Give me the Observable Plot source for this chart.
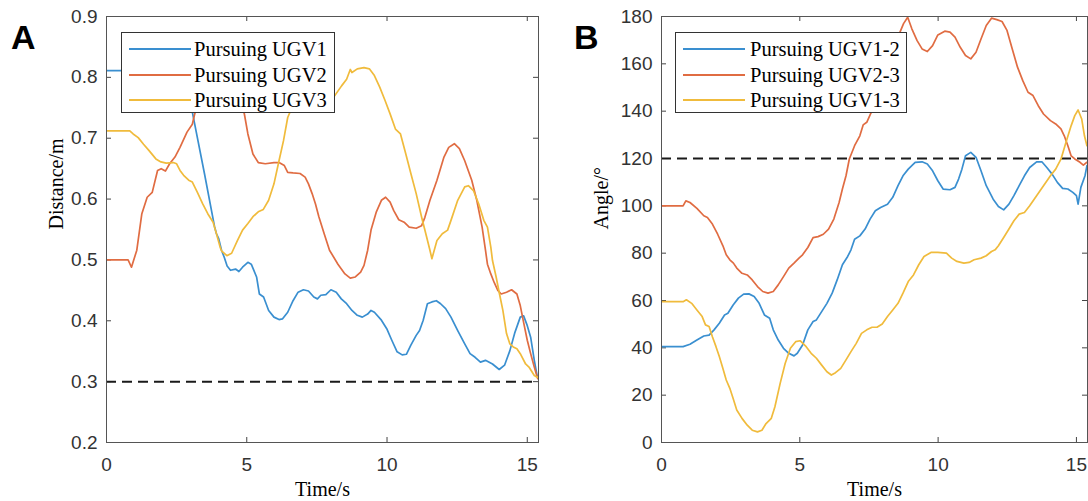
<!DOCTYPE html>
<html>
<head>
<meta charset="utf-8">
<script src="https://cdn.jsdelivr.net/npm/d3@7"></script>
<script src="https://cdn.jsdelivr.net/npm/@observablehq/plot@0.6"></script>
<style>
  html, body { margin: 0; padding: 0; background: #fff; }
  #wrap { display: flex; width: 1088px; height: 501px; }
  .panel { position: relative; width: 544px; height: 501px; }
  .letter { position: absolute; font-family: "Liberation Sans", Arial, sans-serif; font-weight: bold; font-size: 34px; line-height: 34px; color: #000; }
  .legend { position: absolute; background: #fff; border: 1px solid #333; box-sizing: border-box; }
  .row { position: absolute; left: 0; right: 0; height: 26px; }
  .sw { position: absolute; width: 62px; height: 0; border-top: 2px solid; top: 12px; }
  .lt { position: absolute; font-family: "Liberation Serif", "Times New Roman", serif; font-size: 20.5px; line-height: 26px; top: 0; color: #000; white-space: nowrap; }
</style>
</head>
<body>
<div id="wrap">
  <div class="panel" id="pa"></div>
  <div class="panel" id="pb"></div>
</div>
<script>
// ---------- shared ----------
const xTicks = [0, 5, 10, 15];
const colors = ["#3a8fd0", "#e06c42", "#f0bb3c"];

// ---------- panel A: distance ----------
const aYTicks = [0.2, 0.3, 0.4, 0.5, 0.6, 0.7, 0.8, 0.9];
const aNames = ["Pursuing UGV1", "Pursuing UGV2", "Pursuing UGV3"];
const aThreshold = 0.3;

const a1t = [0,0.8,1.5,2.2,2.75,3.06,3.5,3.85,3.92,4.0,4.1,4.2,4.3,4.42,4.6,4.72,4.85,5.04,5.16,5.35,5.45,5.6,5.78,5.97,6.15,6.27,6.46,6.65,6.83,7.02,7.2,7.39,7.52,7.64,7.82,8.0,8.19,8.37,8.56,8.75,8.94,9.12,9.31,9.43,9.55,9.8,9.99,10.17,10.36,10.54,10.69,10.85,11.04,11.16,11.29,11.44,11.6,11.76,11.91,12.09,12.28,12.52,12.77,12.96,13.14,13.33,13.51,13.76,14.0,14.19,14.38,14.56,14.75,14.87,15.0,15.12,15.25,15.35];
const a1v = [0.811,0.811,0.815,0.812,0.805,0.743,0.64,0.555,0.543,0.535,0.516,0.504,0.49,0.483,0.485,0.481,0.488,0.496,0.493,0.472,0.444,0.439,0.417,0.406,0.402,0.403,0.414,0.433,0.447,0.451,0.449,0.439,0.436,0.442,0.443,0.451,0.447,0.436,0.428,0.417,0.409,0.406,0.411,0.417,0.414,0.401,0.387,0.368,0.349,0.344,0.345,0.36,0.376,0.384,0.401,0.428,0.431,0.433,0.428,0.42,0.406,0.384,0.362,0.346,0.34,0.332,0.335,0.329,0.32,0.327,0.351,0.381,0.406,0.408,0.392,0.373,0.335,0.31];

const a2t = [0,0.77,0.89,1.08,1.26,1.45,1.63,1.82,1.95,2.1,2.25,2.44,2.62,2.87,3.06,3.15,3.5,4.0,4.5,4.91,5.04,5.22,5.41,5.66,5.97,6.15,6.34,6.46,6.65,6.9,7.08,7.2,7.33,7.45,7.57,7.76,7.95,8.25,8.5,8.69,8.87,9.06,9.18,9.31,9.43,9.62,9.8,9.95,10.11,10.24,10.42,10.61,10.79,11.04,11.23,11.35,11.53,11.78,12.03,12.2,12.4,12.58,12.77,13.02,13.2,13.39,13.51,13.58,13.7,13.82,13.95,14.07,14.26,14.44,14.63,14.75,14.88,15.0,15.12,15.25,15.37];
const a2v = [0.5,0.5,0.488,0.516,0.576,0.603,0.611,0.647,0.65,0.646,0.658,0.669,0.685,0.71,0.723,0.741,0.77,0.79,0.78,0.741,0.707,0.674,0.66,0.658,0.66,0.66,0.655,0.644,0.643,0.642,0.636,0.625,0.609,0.592,0.571,0.543,0.516,0.493,0.477,0.47,0.472,0.48,0.491,0.516,0.549,0.579,0.598,0.603,0.595,0.581,0.566,0.562,0.554,0.552,0.556,0.57,0.598,0.631,0.669,0.685,0.691,0.683,0.663,0.631,0.598,0.554,0.516,0.493,0.477,0.463,0.45,0.444,0.447,0.451,0.444,0.425,0.395,0.368,0.346,0.324,0.305];

const a3t = [0,0.83,0.95,1.13,1.32,1.51,1.76,1.94,2.13,2.38,2.5,2.62,2.75,2.93,3.06,3.24,3.43,3.61,3.8,3.92,4.05,4.1,4.29,4.46,4.67,4.85,5.04,5.22,5.41,5.59,5.78,5.97,6.15,6.31,6.46,6.7,7.0,7.4,7.8,8.09,8.38,8.56,8.69,8.75,8.94,9.18,9.37,9.55,9.74,9.93,10.11,10.3,10.48,10.67,10.85,11.04,11.23,11.41,11.53,11.6,11.78,11.97,12.16,12.28,12.52,12.77,12.9,13.08,13.27,13.45,13.58,13.7,13.76,13.89,14.01,14.13,14.26,14.38,14.5,14.63,14.75,14.94,15.06,15.25,15.37];
const a3v = [0.712,0.712,0.707,0.701,0.69,0.68,0.666,0.661,0.659,0.66,0.658,0.647,0.639,0.631,0.628,0.611,0.592,0.576,0.562,0.543,0.521,0.515,0.507,0.511,0.532,0.549,0.56,0.571,0.579,0.583,0.598,0.625,0.663,0.696,0.734,0.76,0.775,0.77,0.765,0.767,0.786,0.797,0.813,0.808,0.814,0.816,0.814,0.803,0.784,0.762,0.74,0.715,0.707,0.674,0.642,0.609,0.571,0.538,0.516,0.502,0.532,0.543,0.549,0.565,0.598,0.62,0.622,0.614,0.592,0.565,0.554,0.521,0.499,0.472,0.444,0.417,0.379,0.362,0.357,0.354,0.346,0.329,0.324,0.31,0.307];

// ---------- panel B: angle ----------
const bYTicks = [0, 20, 40, 60, 80, 100, 120, 140, 160, 180];
const bNames = ["Pursuing UGV1-2", "Pursuing UGV2-3", "Pursuing UGV1-3"];
const bThreshold = 120;

const b1t = [0,0.78,1.03,1.28,1.53,1.72,1.9,2.09,2.28,2.4,2.59,2.78,2.97,3.16,3.35,3.53,3.72,3.91,4.04,4.22,4.41,4.6,4.79,4.91,5.1,5.29,5.48,5.6,5.79,5.98,6.17,6.35,6.54,6.73,6.85,6.98,7.17,7.36,7.54,7.73,7.92,8.17,8.36,8.55,8.73,8.92,9.17,9.42,9.61,9.8,9.99,10.18,10.43,10.61,10.74,10.86,10.99,11.18,11.37,11.55,11.74,11.99,12.18,12.37,12.56,12.74,12.93,13.12,13.31,13.56,13.75,13.93,14.12,14.31,14.5,14.69,14.87,15.0,15.06,15.16,15.31,15.38];
const b1v = [40.5,40.5,41.5,43.3,45,45.4,47.6,50.4,53.9,54.6,58.1,61,62.7,62.8,61.7,58.8,53.9,52.5,47.6,43.3,39.8,37.7,36.6,37.7,41.2,47.6,51.1,51.8,55.3,58.8,63.1,68.7,75.1,78.6,81.4,85.9,87.3,90.2,94.4,97.9,99.3,100.7,103.6,108.5,112.7,115.5,118.4,118.6,117.7,114.8,110.6,107.1,106.8,107.8,111.3,115.5,121.2,122.6,120.5,114.8,108.5,102.8,99.7,98.3,100.7,104.3,108.5,112.7,116.2,118.6,118.6,116.2,113.4,109.9,107.4,107.1,105.7,104.3,100.7,107.8,112.7,117];

const b2t = [0,0.78,0.88,1.03,1.28,1.53,1.66,1.84,2.03,2.22,2.34,2.47,2.6,2.72,2.91,3.1,3.28,3.47,3.66,3.85,4.04,4.22,4.41,4.6,4.79,4.97,5.1,5.23,5.29,5.48,5.66,5.85,6.04,6.23,6.42,6.54,6.67,6.79,6.98,7.17,7.29,7.42,7.61,7.9,8.2,8.5,8.75,8.9,9.05,9.24,9.42,9.61,9.8,9.99,10.24,10.43,10.61,10.8,10.99,11.18,11.37,11.55,11.74,11.93,12.12,12.31,12.49,12.68,12.87,13.06,13.25,13.43,13.62,13.81,14.06,14.25,14.44,14.56,14.69,14.81,14.94,15.13,15.25,15.38];
const b2v = [100,100,102.1,101.4,98.9,95.8,95.1,92.3,88,83.1,79.3,77.2,75.8,73.7,71.5,70.8,68.7,65.9,63.8,63.1,63.8,66.6,70.1,73.7,75.8,77.9,79.3,81.4,82.4,86.6,87,88,90.2,94.4,101.4,107.1,112.7,119.8,125.4,129.6,134.2,135.3,140.2,150,160,170,177,179.7,174.8,169.8,166.3,165.2,167.7,172.2,173.8,173.4,171.3,167,163.5,162.1,164.9,170.5,176.2,179.3,178.7,177.9,174.1,166.3,158.6,152.9,148,146.6,142.3,138.8,136,134.6,132.5,129.6,125.4,121.1,119.8,118.4,117.2,118.4];

const b3t = [0,0.78,0.9,1.09,1.28,1.47,1.59,1.72,1.84,1.97,2.09,2.22,2.34,2.47,2.59,2.72,2.91,3.1,3.28,3.47,3.63,3.78,3.97,4.1,4.29,4.47,4.66,4.85,5.01,5.23,5.41,5.6,5.79,5.98,6.14,6.29,6.48,6.67,6.85,7.04,7.23,7.42,7.61,7.79,7.98,8.17,8.36,8.55,8.73,8.92,9.11,9.3,9.49,9.74,9.99,10.3,10.49,10.68,10.93,11.12,11.3,11.55,11.74,11.93,12.06,12.18,12.37,12.56,12.74,12.93,13.12,13.31,13.56,13.81,14.06,14.25,14.44,14.62,14.81,14.94,15.06,15.19,15.29,15.38];
const b3v = [59.5,59.5,60.3,58.8,56,53.2,49.7,49,44.7,40.5,36.3,31.3,26.4,22.9,18.6,13.7,10.2,7.3,5.2,4.5,5.2,8,10.2,15.1,25,33.4,39.8,42.6,43,40.5,37.7,35.6,32.7,29.9,28.5,29.5,31.3,34.9,38.4,41.9,46.1,47.6,48.7,48.7,50.1,53.2,56,58.8,63.1,68,70.8,75.1,78.6,80.3,80.3,80,77.9,76.5,75.8,76.1,77.2,77.9,78.9,80.7,81.4,83.1,86.6,90.2,93.7,96.5,97.2,100,104.3,108.5,112.7,115.5,119.7,126.8,133.9,138.1,140.5,136.7,129.6,125.4];

// ---------- builder ----------
const H = 501, mTop = 16, mBottom = 59;
const innerH = H - mTop - mBottom;
const TICK = 5;
const sans = "'Liberation Sans', Arial, sans-serif";
const serif = "'Liberation Serif', 'Times New Roman', serif";

function pts(t, v) { return t.map((x, i) => [x, v[i]]); }

function panel(opts) {
  const innerW = 544 - opts.ml - opts.mr;
  return Plot.plot({
    width: 544,
    height: H,
    marginLeft: opts.ml,
    marginRight: opts.mr,
    marginTop: mTop,
    marginBottom: mBottom,
    style: { fontFamily: sans, fontSize: "19px", color: "#333", background: "transparent" },
    x: { domain: [0, 15.4], ticks: xTicks },
    y: { domain: opts.yDomain, ticks: opts.yTicks },
    marks: [
      Plot.axisX(xTicks, { tickSize: 0, tickPadding: 15, label: null, fontSize: 19 }),
      Plot.axisY(opts.yTicks, { tickSize: 0, tickPadding: 9, label: null, fontSize: 19, tickFormat: opts.fmt }),
      // inward ticks on all four sides (MATLAB box style)
      Plot.tickX(xTicks, { x: d => d, insetTop: innerH - TICK, stroke: "#444", strokeWidth: 1 }),
      Plot.tickX(xTicks, { x: d => d, insetBottom: innerH - TICK, stroke: "#444", strokeWidth: 1 }),
      Plot.tickY(opts.yTicks, { y: d => d, insetRight: innerW - TICK, stroke: "#444", strokeWidth: 1 }),
      Plot.tickY(opts.yTicks, { y: d => d, insetLeft: innerW - TICK, stroke: "#444", strokeWidth: 1 }),
      Plot.ruleY([opts.threshold], { stroke: "#1a1a1a", strokeWidth: 2, strokeDasharray: "10,6" }),
      ...opts.series.map((s, i) => Plot.line(pts(s[0], s[1]), { stroke: colors[i], strokeWidth: 1.7, clip: true })),
      Plot.frame({ stroke: "#555", strokeWidth: 1 }),
      Plot.text(["Time/s"], { frameAnchor: "bottom", dy: 47, fontFamily: serif, fontSize: 20, fill: "#000", lineAnchor: "middle" }),
      Plot.text([opts.ylabel], { frameAnchor: "left", dx: opts.ylabelDx, rotate: -90, fontFamily: serif, fontSize: 20, fill: "#000", lineAnchor: "middle" })
    ]
  });
}

function legend(el, names, box) {
  const lg = document.createElement("div");
  lg.className = "legend";
  Object.assign(lg.style, { left: box.left + "px", top: box.top + "px", width: box.width + "px", height: box.height + "px" });
  names.forEach((n, i) => {
    const row = document.createElement("div");
    row.className = "row";
    row.style.top = (3 + i * 25.5) + "px";
    const sw = document.createElement("div");
    sw.className = "sw";
    sw.style.left = "7px";
    sw.style.borderTopColor = colors[i];
    const tx = document.createElement("div");
    tx.className = "lt";
    tx.style.left = box.textLeft + "px";
    tx.textContent = n;
    row.appendChild(sw);
    row.appendChild(tx);
    lg.appendChild(row);
  });
  el.appendChild(lg);
}

function letter(el, txt, left) {
  const d = document.createElement("div");
  d.className = "letter";
  d.style.left = left + "px";
  d.style.top = "20px";
  d.textContent = txt;
  el.appendChild(d);
}

const pa = document.getElementById("pa");
pa.appendChild(panel({
  ml: 106, mr: 6, yDomain: [0.2, 0.9], yTicks: aYTicks, fmt: d => d.toFixed(1),
  threshold: aThreshold, ylabel: "Distance/m", ylabelDx: -50,
  series: [[a1t, a1v], [a2t, a2v], [a3t, a3v]]
}));
legend(pa, aNames, { left: 121, top: 32, width: 214, height: 81, textLeft: 72 });
letter(pa, "A", 11);

const pb = document.getElementById("pb");
pb.appendChild(panel({
  ml: 117, mr: 1, yDomain: [0, 180], yTicks: bYTicks, fmt: d => String(d),
  threshold: bThreshold, ylabel: "Angle/°", ylabelDx: -60,
  series: [[b1t, b1v], [b2t, b2v], [b3t, b3v]]
}));
legend(pb, bNames, { left: 131, top: 32, width: 232, height: 81, textLeft: 74 });
letter(pb, "B", 30);
</script>
</body>
</html>
